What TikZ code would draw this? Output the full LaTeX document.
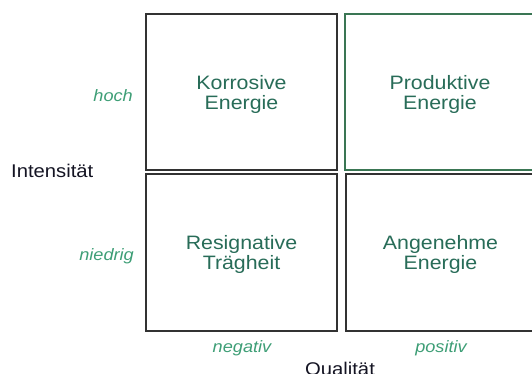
\documentclass[tikz,border=0pt]{standalone}
\usepackage{fontspec}
\setmainfont{Liberation Sans}[FakeStretch=1.1]
\definecolor{quadtext}{RGB}{40,108,88}
\definecolor{levelgreen}{RGB}{62,158,118}
\definecolor{boxgreen}{RGB}{58,118,84}
\definecolor{framegray}{RGB}{50,50,50}
\definecolor{axisink}{RGB}{20,20,35}
\begin{document}
\begin{tikzpicture}[x=1pt,y=-1pt,
  quadrant/.style={draw=framegray, line width=1.4pt, minimum width=191pt,
    minimum height=156pt, inner sep=0pt, outer sep=0pt},
  quadlabel/.style={align=center, inner sep=0pt, yshift=-2pt,
    text=quadtext, font=\fontsize{19.4}{20}\selectfont},
  level/.style={text=levelgreen, font=\fontsize{16.5}{18}\selectfont\itshape, inner sep=0pt},
  axistitle/.style={text=axisink, font=\fontsize{18.4}{20}\selectfont, inner sep=0pt}]
\useasboundingbox (0,0) rectangle (532,374);

% the four quadrants of the energy matrix
\node[quadrant] (korr) at (241.5,92) {};
\node[quadrant, draw=boxgreen, line width=1.1pt, minimum width=190pt] (prod) at (440,92) {};
\node[quadrant, minimum height=157pt] (resig) at (241.5,252.5) {};
\node[quadrant, minimum height=157pt, minimum width=189pt] (angen) at (440.5,252.5) {};

\node[quadlabel] (korrtxt) at (korr.center) {Korrosive\\Energie};
\node[quadlabel] (prodtxt) at (prod.center) {Produktive\\Energie};
\node[quadlabel] (resigtxt) at (resig.center) {Resignative\\Trägheit};
\node[quadlabel] (angentxt) at (angen.center) {Angenehme\\Energie};

% levels of intensity
\node[level, anchor=base east] (hoch) at (133,102) {hoch};
\node[level, anchor=base east] (niedrig) at (134,260) {niedrig};

% levels of quality
\node[level, anchor=base] (neg) at (242,352) {negativ};
\node[level, anchor=base] (pos) at (441,352) {positiv};

% axis titles
\node[axistitle, anchor=base west] (intens) at (11,177) {Intensität};
\node[axistitle, anchor=base] (qual) at (340,375) {Qualität};
\end{tikzpicture}
\end{document}
